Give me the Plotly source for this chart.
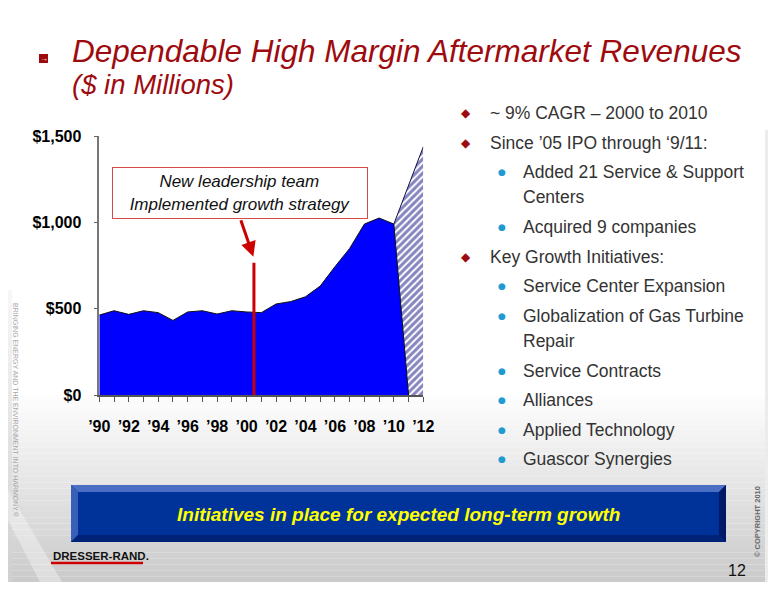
import plotly.graph_objects as go

# Aftermarket revenues ($M)
years = list(range(1990, 2012))
revenue = [463, 488, 467, 488, 477, 432, 481, 488, 469, 488, 481,
           477, 527, 541, 569, 631, 743, 849, 990, 1025, 990, 0]
forecast_years = [2010, 2012]
forecast = [990, 1438]

tick_years = list(range(1990, 2013))
tick_labels = ["’90", "", "’92", "", "’94", "", "’96", "", "’98", "", "’00", "",
               "’02", "", "’04", "", "’06", "", "’08", "", "’10", "", "’12"]
y_ticks = [0, 500, 1000, 1500]
y_labels = ["$0", "$500", "$1,000", "$1,500"]

# marker for new leadership
leadership_year = 2000.5
leadership_value = 766

# (level, text): 0 = main diamond bullet, 1 = sub bullet, 2 = wrapped line
bullets = [
    (0, "~ 9% CAGR – 2000 to 2010"),
    (0, "Since ’05 IPO through ‘9/11:"),
    (1, "Added 21 Service & Support"),
    (2, "Centers"),
    (1, "Acquired 9 companies"),
    (0, "Key Growth Initiatives:"),
    (1, "Service Center Expansion"),
    (1, "Globalization of Gas Turbine"),
    (2, "Repair"),
    (1, "Service Contracts"),
    (1, "Alliances"),
    (1, "Applied Technology"),
    (1, "Guascor Synergies"),
]
bullet_y = [113, 143, 172, 197, 227, 257, 286, 316, 341, 371, 400, 430, 459]

W, H = 776, 600
OFF = 8  # page margin around the figure in the browser
SANS = "Liberation Sans, Arial, sans-serif"
RED = "#9e0b0f"


def px(x):
    return (x - OFF) / W


def py(y):
    return 1 - (y - OFF) / H


fig = go.Figure()

fig.add_trace(go.Scatter(
    x=forecast_years, y=forecast, mode="lines", fill="tozeroy",
    line=dict(color="#10104a", width=1),
    fillcolor="white",
    fillpattern=dict(shape="/", fgcolor="#0c0c80", bgcolor="white", size=5, solidity=0.6),
    hoverinfo="skip", showlegend=False,
))
fig.add_trace(go.Scatter(
    x=years, y=revenue, mode="lines", fill="tozeroy",
    line=dict(color="#111111", width=1),
    fillcolor="#0000ff",
    hoverinfo="skip", showlegend=False,
))

shapes = []

# slide background: gray gradient towards the bottom
top, bottom, n = 395, 582, 32
for i in range(n):
    y0 = top + (bottom - top) * i / n
    y1 = top + (bottom - top) * (i + 1) / n
    g = int(255 - 52 * (i + 1) / n)
    shapes.append(dict(type="rect", xref="paper", yref="paper", layer="below",
                       x0=px(8), x1=px(765), y0=py(y1), y1=py(y0),
                       line=dict(width=0), fillcolor=f"rgb({g},{g},{g})"))
for i in range(20):
    y0 = 290 + (582 - 290) * i / 20
    y1 = 290 + (582 - 290) * (i + 1) / 20
    g = int(248 - 40 * (i + 1) / 20)
    shapes.append(dict(type="rect", xref="paper", yref="paper", layer="below",
                       x0=px(8), x1=px(12), y0=py(y1), y1=py(y0),
                       line=dict(width=0), fillcolor=f"rgb({g},{g},{g})"))
shapes.append(dict(type="rect", xref="paper", yref="paper", layer="below",
                   x0=px(765), x1=px(776), y0=py(582), y1=py(130),
                   line=dict(width=0), fillcolor="#ececec"))
shapes.append(dict(type="path", xref="paper", yref="paper", layer="below",
                   path=f"M {px(8)},{py(520)} L {px(40)},{py(582)} L {px(62)},{py(582)} L {px(8)},{py(490)} Z",
                   line=dict(width=0), fillcolor="rgba(255,255,255,0.35)"))

# title icon
shapes.append(dict(type="rect", xref="paper", yref="paper",
                   x0=px(39), x1=px(48), y0=py(63), y1=py(54),
                   line=dict(width=0), fillcolor=RED))

# new leadership marker line
shapes.append(dict(type="line", xref="x", yref="y",
                   x0=leadership_year, x1=leadership_year, y0=0, y1=leadership_value,
                   line=dict(color="#cc0000", width=3)))

# banner with bevel
bx0, bx1, by0, by1, b = 71, 726, 485, 542, 7
shapes.append(dict(type="rect", xref="paper", yref="paper",
                   x0=px(bx0), x1=px(bx1), y0=py(by1), y1=py(by0),
                   line=dict(width=0), fillcolor="#003399"))
bevels = [
    (f"M {px(bx0)},{py(by0)} L {px(bx1)},{py(by0)} L {px(bx1-b)},{py(by0+b)} L {px(bx0+b)},{py(by0+b)} Z", "#4a6fc4"),
    (f"M {px(bx0)},{py(by0)} L {px(bx0+b)},{py(by0+b)} L {px(bx0+b)},{py(by1-b)} L {px(bx0)},{py(by1)} Z", "#3a5fb8"),
    (f"M {px(bx0)},{py(by1)} L {px(bx0+b)},{py(by1-b)} L {px(bx1-b)},{py(by1-b)} L {px(bx1)},{py(by1)} Z", "#002277"),
    (f"M {px(bx1)},{py(by0)} L {px(bx1)},{py(by1)} L {px(bx1-b)},{py(by1-b)} L {px(bx1-b)},{py(by0+b)} Z", "#001a66"),
]
for path, col in bevels:
    shapes.append(dict(type="path", xref="paper", yref="paper", path=path,
                       line=dict(width=0), fillcolor=col))

# logo underline
shapes.append(dict(type="line", xref="paper", yref="paper",
                   x0=px(51), x1=px(143), y0=py(563), y1=py(563),
                   line=dict(color="#cc0000", width=2.5)))

annotations = [
    dict(x=px(70), y=py(51), text="<i>Dependable High Margin Aftermarket Revenues</i>",
         font=dict(family=SANS, size=31.5, color=RED)),
    dict(x=px(70), y=py(85), text="<i>($ in Millions)</i>",
         font=dict(family=SANS, size=27.5, color=RED)),
    dict(x=px(43.5), y=py(58.5), text="→", xanchor="center",
         font=dict(family=SANS, size=8, color="white")),
    dict(x=px(240), y=py(193),
         text="<i>New leadership team<br>Implemented growth strategy</i>",
         xanchor="center", width=250, height=46, borderpad=2, borderwidth=1,
         bordercolor="#d44a4a", bgcolor="white",
         font=dict(family=SANS, size=17, color="#111111")),
    dict(x=leadership_year - 0.04, y=801, xref="x", yref="y", text="",
         showarrow=True, ax=-13, ay=-38, arrowhead=2, arrowsize=1,
         arrowwidth=3, arrowcolor="#cc0000"),
    dict(x=px(398), y=py(514),
         text="<b><i>Initiatives in place for expected long-term growth</i></b>",
         xanchor="center", font=dict(family=SANS, size=19, color="#ffff00")),
    dict(x=px(51), y=py(556), text="<b>DRESSER-RAND.</b>",
         font=dict(family=SANS, size=11.5, color="#111111")),
    dict(x=px(737), y=py(570), text="12", xanchor="center",
         font=dict(family=SANS, size=16, color="#111111")),
    dict(x=px(757), y=py(522), text="<b>© COPYRIGHT 2010</b>", xanchor="center",
         textangle=-90, font=dict(family=SANS, size=7.5, color="#666666")),
    dict(x=px(16), y=py(410), text="BRINGING ENERGY AND THE ENVIRONMENT INTO HARMONY.®",
         xanchor="center", textangle=90, font=dict(family=SANS, size=7, color="#a8a8a8")),
]

for (level, text), y in zip(bullets, bullet_y):
    if level == 0:
        annotations.append(dict(x=px(466), y=py(y), text="◆", xanchor="center",
                                font=dict(family="DejaVu Sans", size=12, color=RED)))
        annotations.append(dict(x=px(488), y=py(y), text=text,
                                font=dict(family=SANS, size=17.5, color="#333333")))
    else:
        if level == 1:
            annotations.append(dict(x=px(502), y=py(y), text="●", xanchor="center",
                                    font=dict(family="DejaVu Sans", size=9, color="#1f9ad2")))
        annotations.append(dict(x=px(521), y=py(y), text=text,
                                font=dict(family=SANS, size=17.5, color="#333333")))

for a in annotations:
    a.setdefault("xref", "paper")
    a.setdefault("yref", "paper")
    a.setdefault("showarrow", False)
    a.setdefault("xanchor", "left")
    a.setdefault("yanchor", "middle")

fig.update_layout(
    width=W, height=H,
    margin=dict(l=0, r=0, t=0, b=0, autoexpand=False),
    paper_bgcolor="white",
    plot_bgcolor="rgba(0,0,0,0)",
    showlegend=False,
    shapes=shapes,
    annotations=annotations,
    xaxis=dict(
        domain=[px(99.3), px(423.3)], range=[1990, 2012], automargin=False,
        tickmode="array", tickvals=tick_years, ticktext=tick_labels,
        ticks="outside", ticklen=5, tickwidth=1, tickcolor="#555555",
        showline=True, linecolor="#555555", linewidth=1.5,
        showgrid=False, zeroline=False, ticklabelstandoff=11,
        tickfont=dict(family=SANS, size=16, color="black", weight="bold"),
    ),
    yaxis=dict(
        domain=[py(395), py(136)], range=[0, 1500], automargin=False,
        tickmode="array", tickvals=y_ticks, ticktext=y_labels,
        ticks="outside", ticklen=4, tickwidth=1, tickcolor="#666666",
        showline=True, linecolor="#777777", linewidth=1.5,
        showgrid=False, zeroline=False, ticklabelstandoff=9,
        tickfont=dict(family=SANS, size=16, color="black", weight="bold"),
    ),
)

fig.write_html("out.html")
